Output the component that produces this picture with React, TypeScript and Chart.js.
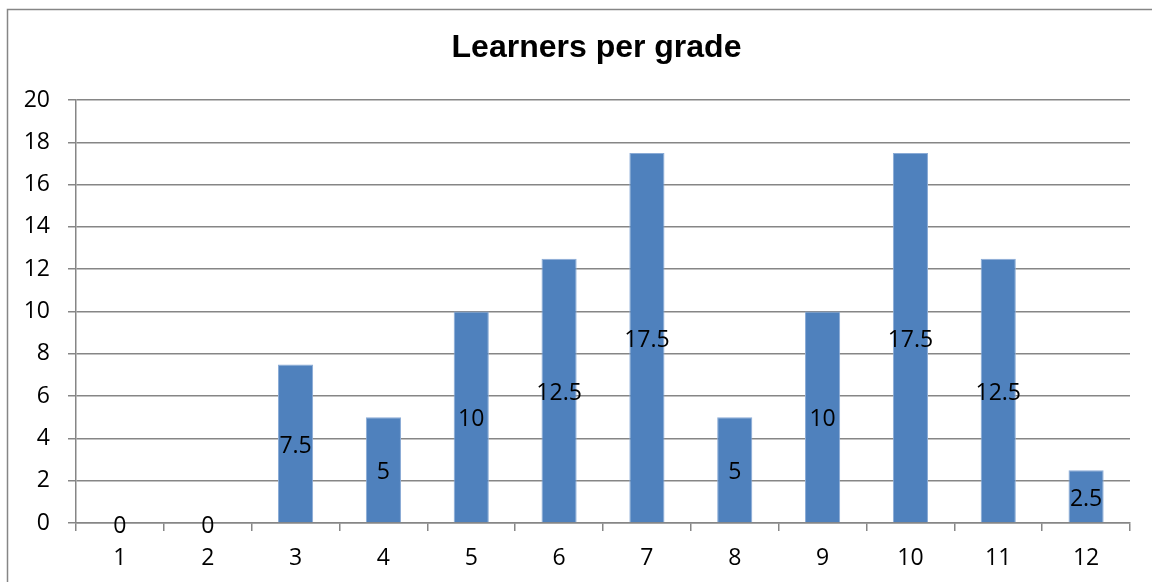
import React, { useEffect, useRef } from "react";
import { Chart, registerables } from "chart.js";

Chart.register(...registerables);

const TITLE = "Learners per grade";
const grades = ["1", "2", "3", "4", "5", "6", "7", "8", "9", "10", "11", "12"];
const learners = [0, 0, 7.5, 5, 10, 12.5, 17.5, 5, 10, 17.5, 12.5, 2.5];
const yMin = 0;
const yMax = 20;
const yStep = 2;

const GRID = "#868686";
const FONT = "'Open Sans', sans-serif";

const framePlugin = {
  id: "frame",
  beforeDraw(chart: any) {
    const ctx = chart.ctx;
    ctx.save();
    ctx.fillStyle = "#ffffff";
    ctx.fillRect(0, 0, chart.width, chart.height);
    ctx.strokeStyle = GRID;
    ctx.lineWidth = 1.5;
    ctx.strokeRect(7.5, 9.5, 1300, 700);
    ctx.fillStyle = "#000";
    ctx.font = "bold 32px 'Liberation Sans', Arial, sans-serif";
    ctx.textAlign = "center";
    ctx.textBaseline = "alphabetic";
    ctx.fillText(TITLE, 596.5, 57);
    ctx.restore();
  },
};

const labelPlugin = {
  id: "barLabels",
  afterDatasetsDraw(chart: any) {
    const ctx = chart.ctx;
    const meta = chart.getDatasetMeta(0);
    const data = chart.data.datasets[0].data;
    ctx.save();
    ctx.fillStyle = "#000";
    ctx.font = `23px ${FONT}`;
    ctx.textAlign = "center";
    ctx.textBaseline = "middle";
    meta.data.forEach((bar: any, i: number) => {
      const p = bar.getProps(["x", "y", "base"], true);
      const yc = (p.y + p.base) / 2 + 3;
      ctx.fillText(String(data[i]), p.x, yc);
    });
    ctx.restore();
  },
};

export default function App() {
  const ref = useRef<HTMLCanvasElement | null>(null);
  useEffect(() => {
    document.body.style.margin = "0";
    const canvas = ref.current!;
    const chart = new Chart(canvas, {
      type: "bar",
      data: {
        labels: grades,
        datasets: [
          {
            data: learners,
            backgroundColor: "#4F81BD",
            borderColor: "#8AABD6",
            borderWidth: 1,
            categoryPercentage: 1,
            barPercentage: 0.4,
          },
        ],
      },
      options: {
        animation: false,
        responsive: false,
        maintainAspectRatio: false,
        layout: { padding: { top: 100, right: 22, left: 0, bottom: 0 } },
        plugins: {
          legend: { display: false },
          title: { display: false },
          tooltip: { enabled: false },
        },
        scales: {
          x: {
            afterFit(scale: any) {
              scale.height = 59;
            },
            grid: {
              offset: true,
              drawOnChartArea: false,
              drawTicks: true,
              tickLength: 8,
              color: GRID,
              lineWidth: 1.5,
            },
            border: { display: true, color: GRID, width: 1.5 },
            ticks: {
              color: "#000",
              font: { family: FONT, size: 23 },
              padding: 14,
              maxRotation: 0,
            },
          },
          y: {
            min: yMin,
            max: yMax,
            afterFit(scale: any) {
              scale.width = 76;
            },
            grid: {
              color: GRID,
              lineWidth: 1.5,
              drawTicks: true,
              tickLength: 8,
            },
            border: { display: true, color: GRID, width: 1.5 },
            ticks: {
              stepSize: yStep,
              color: "#000",
              font: { family: FONT, size: 23 },
              padding: 18,
            },
          },
        },
      },
      plugins: [framePlugin, labelPlugin],
    });
    return () => chart.destroy();
  }, []);
  return (
    <div style={{ width: 1152, height: 582 }}>
      <canvas ref={ref} width={1152} height={582} style={{ display: "block" }} />
    </div>
  );
}
